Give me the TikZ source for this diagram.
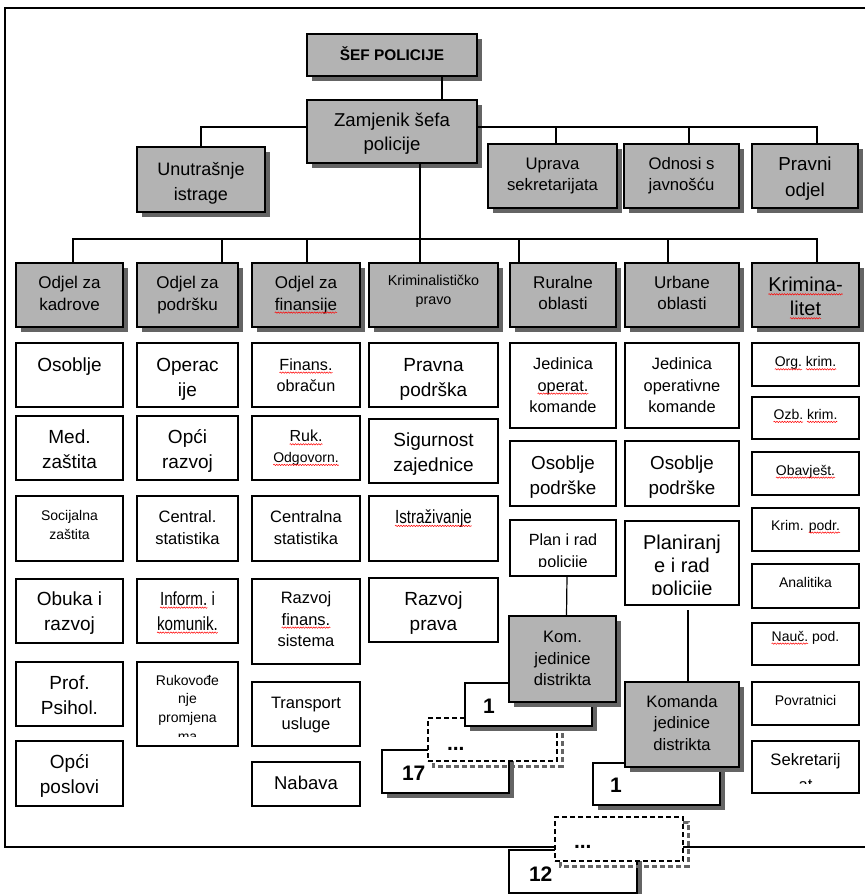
\documentclass[tikz,border=0pt]{standalone}
\usepackage{fontspec}
\setmainfont{Liberation Sans}
\newfontfamily\narrowfont{Liberation Sans}[FakeStretch=0.8]
\usetikzlibrary{decorations.pathmorphing}

\definecolor{boxgray}{RGB}{179,179,179}
\definecolor{shadowgray}{RGB}{100,100,100}

\tikzset{
  boxline/.style={line width=1.7pt},
  graybox/.style={draw=black, fill=boxgray, boxline, rectangle, inner sep=0pt, outer sep=0pt},
  whitebox/.style={draw=black, fill=white, boxline, rectangle, inner sep=0pt, outer sep=0pt},
  dashbox/.style={whitebox, dash pattern=on 5pt off 3pt},
  dashshadow/.style={draw=shadowgray, line width=3pt, dash pattern=on 5pt off 3pt},
  link/.style={draw=black, line width=1.2pt},
  txt/.style={inner sep=0pt, outer sep=0pt, align=center, anchor=north},
  numtxt/.style={inner sep=0pt, outer sep=0pt, anchor=base west, font=\fontsize{21}{25}\selectfont\bfseries},
  frame/.style={draw=black, line width=1.3pt},
}

% current text size and line distance
\newcommand\fsz[2]{\def\cfs{#1}\def\cbs{#2}}
\def\cinset{8}
% word marked with a red wavy underline
\newcommand\sq[1]{\tikz[baseline=(sqw.base)]{\node[inner sep=0pt, outer sep=0pt, anchor=base west, align=left, draw=none, fill=none, font=] (sqw) at (0pt,0pt) {#1};
  \draw[overlay, red, line width=0.5pt, decorate, decoration={snake, amplitude=0.7pt, segment length=2.6pt}] ([yshift=-2.6pt]sqw.base west) -- ([yshift=-2.6pt]sqw.base east);}}
% box with text set from the top and cut at the lower margin:
% name, style, x1, y1, x2, y2, first baseline, text
\newcommand\obox[8]{%
  \node[#2, anchor=north west, minimum width={(#5-#3)*1pt}, minimum height={(#6-#4)*1pt}] (#1) at (#3,#4) {};
  \begin{scope}
    \clip (#3,#4) rectangle (#5,{#6-\cinset});
    \node[txt, font=\fontsize{\cfs}{\cbs}\selectfont] (#1-t) at ({(#3+#5)/2},{#7-0.7*\cbs}) {\strut#8};
  \end{scope}}
% drop shadow behind a box
\newcommand\dropshadow[4]{\fill[shadowgray] ({#1+5},{#2+5}) rectangle ({#3+5},{#4+5});}

\begin{document}
\begin{tikzpicture}[x=1pt,y=-1pt]
\useasboundingbox (0,0) rectangle (865,894);

% page frame
\draw[frame] (865,8) -- (5,8) -- (5,847) -- (865,847);

% --- top management ---
\dropshadow{307}{34}{477}{76}
\fsz{15.4}{18}
\obox{sef}{graybox}{307}{34}{477}{76}{59.3}{\bfseries ŠEF POLICIJE}
\dropshadow{307}{100}{477}{163}
\fsz{18.6}{24}
\obox{zam}{graybox}{307}{100}{477}{163}{126.7}{Zamjenik šefa\\policije}
\dropshadow{137}{147}{265}{212}
\fsz{18}{25}
\obox{unut}{graybox}{137}{147}{265}{212}{175}{Unutrašnje\\istrage}
\dropshadow{488}{144}{617}{208}
\fsz{16.7}{21}
\obox{uprava}{graybox}{488}{144}{617}{208}{169}{Uprava\\sekretarijata}
\dropshadow{624}{144}{739}{208}
\obox{odnosi}{graybox}{624}{144}{739}{208}{169}{Odnosi s\\javnošću}
\dropshadow{752}{144}{858}{208}
\fsz{18.8}{26}
\obox{pravni}{graybox}{752}{144}{858}{208}{170.7}{Pravni\\odjel}

\draw[link] ([xshift=50pt]sef.south) -- ([xshift=50pt]zam.north);
\draw[link] (unut.north) |- ([yshift=4.5pt]zam.west);
\draw[link] ([yshift=4.5pt]zam.east) -| ([xshift=12pt]pravni.north);
\draw[link] ([xshift=3.5pt]uprava.north) -- ++(0,-17);
\draw[link] ([xshift=7.5pt]odnosi.north) -- ++(0,-17);

% --- departments ---
\foreach \xa/\xb in {16/123, 137/238, 252/360, 369/498, 510/616, 625/739, 752/859}
  {\dropshadow{\xa}{263}{\xb}{327}}
\fsz{17}{21.7}
\obox{h1}{graybox}{16}{263}{123}{327}{288.3}{Odjel za\\kadrove}
\obox{h2}{graybox}{137}{263}{238}{327}{288.3}{Odjel za\\podršku}
\obox{h3}{graybox}{252}{263}{360}{327}{288.3}{Odjel za\\\sq{finansije}}
\fsz{14.3}{18.7}
\obox{h4}{graybox}{369}{263}{498}{327}{285.3}{Kriminalističko\\pravo}
\fsz{17}{21.7}
\obox{h5}{graybox}{510}{263}{616}{327}{288}{Ruralne\\oblasti}
\obox{h6}{graybox}{625}{263}{739}{327}{288}{Urbane\\oblasti}
\fsz{20}{24}
\obox{h7}{graybox}{752}{263}{859}{327}{291.7}{\sq{Krimina-}\\\sq{litet}}

\draw[link] ([xshift=28pt]zam.south) -- ([xshift=-13.5pt]h4.north);
\draw[link] ([xshift=3.5pt]h1.north) -- ++(0,-24) -| ([xshift=11.5pt]h7.north);
\draw[link] ([xshift=34.5pt]h2.north) -- ++(0,-24);
\draw[link] ([xshift=1pt]h3.north) -- ++(0,-24);
\draw[link] ([xshift=-44pt]h5.north) -- ++(0,-24);
\draw[link] ([xshift=-14pt]h6.north) -- ++(0,-24);

% --- column 1 ---
\fsz{19}{25}
\obox{c1a}{whitebox}{16}{343}{123}{407}{371.7}{Osoblje}
\obox{c1b}{whitebox}{16}{416}{123}{480}{443.3}{Med.\\zaštita}
\fsz{14}{19}
\obox{c1c}{whitebox}{16}{496}{123}{561}{520}{Socijalna\\zaštita}
\fsz{19}{25}
\obox{c1d}{whitebox}{16}{579}{123}{643}{605.7}{Obuka i\\razvoj}
\obox{c1e}{whitebox}{16}{662}{123}{726}{689.3}{Prof.\\Psihol.}
\obox{c1f}{whitebox}{16}{741}{123}{806}{768.3}{Opći\\poslovi}

% --- column 2 ---
\obox{c2a}{whitebox}{137}{343}{238}{407}{371.7}{Operac\\ije}
\obox{c2b}{whitebox}{137}{416}{238}{480}{443.3}{Opći\\razvoj}
\fsz{16.5}{21.3}
\obox{c2c}{whitebox}{137}{496}{238}{561}{522.7}{Central.\\statistika}
\fsz{19}{25}
\obox{c2d}{whitebox}{137}{579}{238}{643}{605}{\narrowfont\sq{Inform.} i\\\narrowfont\sq{komunik.}}
\fsz{14}{18.7}
\def\cinset{10}
\obox{c2e}{whitebox}{137}{662}{238}{746}{685}{Rukovođe\\nje\\promjena\\ma}
\def\cinset{8}

% --- column 3 ---
\fsz{16.2}{21}
\obox{c3a}{whitebox}{252}{343}{360}{407}{370}{\sq{Finans.}\\obračun}
\fsz{16}{20.6}
\obox{c3b}{whitebox}{252}{416}{360}{480}{441.7}{\sq{Ruk.}\\\fontsize{14}{20.6}\selectfont\sq{Odgovorn.}}
\fsz{16.5}{21.3}
\obox{c3c}{whitebox}{252}{496}{360}{561}{522.7}{Centralna\\statistika}
\fsz{16.5}{21.7}
\obox{c3d}{whitebox}{252}{579}{360}{664}{603.3}{Razvoj\\\sq{finans.}\\sistema}
\fsz{16.5}{21}
\obox{c3e}{whitebox}{252}{682}{360}{746}{708.3}{Transport\\usluge}
\fsz{18.5}{25}
\obox{c3f}{whitebox}{252}{762}{360}{806}{789}{Nabava}

% --- column 4 ---
\fsz{19}{25}
\obox{c4a}{whitebox}{369}{343}{498}{407}{371.7}{Pravna\\podrška}
\obox{c4b}{whitebox}{369}{419}{498}{483}{446}{Sigurnost\\zajednice}
\obox{c4c}{whitebox}{369}{496}{498}{561}{523.3}{\narrowfont\sq{Istraživanje}}
\obox{c4d}{whitebox}{369}{578}{498}{642}{605}{Razvoj\\prava}

% --- column 5 ---
\fsz{16.3}{21.7}
\obox{c5a}{whitebox}{510}{343}{616}{428}{369.3}{Jedinica\\\sq{operat.}\\komande}
\fsz{18.8}{25}
\obox{c5b}{whitebox}{510}{441}{616}{506}{469.3}{Osoblje\\podrške}
\fsz{16.2}{22}
\def\cinset{9.5}
\obox{c5c}{whitebox}{510}{520}{616}{576}{545}{Plan i rad\\policije}

% --- column 6 ---
\fsz{16.4}{21.7}
\def\cinset{8}
\obox{c6a}{whitebox}{625}{343}{739}{428}{369.3}{Jedinica\\operativne\\komande}
\fsz{18.8}{25}
\obox{c6b}{whitebox}{625}{441}{739}{506}{469.3}{Osoblje\\podrške}
\fsz{20}{23}
\def\cinset{11}
\obox{c6c}{whitebox}{625}{521}{739}{605}{549.3}{Planiranj\\e i rad\\policije}
\def\cinset{8}

% --- column 7 ---
\fsz{14}{18}
\obox{c7a}{whitebox}{752}{343}{859}{386}{366.7}{\sq{Org.} \sq{krim.}}
\obox{c7b}{whitebox}{752}{397}{859}{439}{419.3}{\sq{Ozb.} \sq{krim.}}
\obox{c7c}{whitebox}{752}{452}{859}{495}{475}{\sq{Obavješt.}}
\obox{c7d}{whitebox}{752}{508}{859}{551}{530}{Krim. \sq{podr.}}
\obox{c7e}{whitebox}{752}{564}{859}{608}{587}{Analitika}
\obox{c7f}{whitebox}{752}{623}{859}{665}{641}{\sq{Nauč.} pod.}
\obox{c7g}{whitebox}{752}{682}{859}{725}{705}{Povratnici}
\def\cinset{10}
\fsz{16.6}{25}
\obox{c7h}{whitebox}{752}{741}{859}{793}{765}{Sekretarij\\at}
\def\cinset{8}

% --- rural district units: 1 ... 17 ---
\dropshadow{382}{750}{509}{793}
\node[whitebox, anchor=north west, minimum width=127pt, minimum height=43pt] (r17) at (382,750) {};
\node[numtxt] (r17-t) at (402,780) {17};
\draw[dashshadow] (433,723) rectangle (562,766);
\node[dashbox, anchor=north west, minimum width=129pt, minimum height=43pt] (rdots) at (428,718) {};
\node[numtxt] (rdots-t) at (447,750) {...};
\dropshadow{465}{683}{592}{726}
\node[whitebox, anchor=north west, minimum width=127pt, minimum height=43pt] (r1) at (465,683) {};
\node[numtxt] (r1-t) at (483,713) {1};
\dropshadow{509}{616}{616}{702}
\fsz{16.6}{21.3}
\obox{k5}{graybox}{509}{616}{616}{702}{642.7}{Kom.\\jedinice\\distrikta}
\draw[link] ([xshift=4pt]c5c.south) -- ([xshift=4pt]k5.north);

% --- urban district units: 1 ... 12 ---
\dropshadow{509}{850}{637}{893}
\node[whitebox, anchor=north west, minimum width=128pt, minimum height=43pt] (u12) at (509,850) {};
\node[numtxt] (u12-t) at (529,881.7) {12};
\draw[dashshadow] (560,822) rectangle (688,866);
\node[dashbox, anchor=north west, minimum width=128pt, minimum height=44pt] (udots) at (555,817) {};
\node[numtxt] (udots-t) at (574,848.3) {...};
\dropshadow{593}{763}{720}{805}
\node[whitebox, anchor=north west, minimum width=127pt, minimum height=42pt] (u1) at (593,763) {};
\node[numtxt] (u1-t) at (610,792.7) {1};
\dropshadow{625}{682}{739}{767}
\fsz{16.6}{21.5}
\obox{k6}{graybox}{625}{682}{739}{767}{707.3}{Komanda\\jedinice\\distrikta}
\draw[link] ([xshift=6pt,yshift=-5pt]c6c.south) -- ([xshift=6pt]k6.north);
\end{tikzpicture}
\end{document}
